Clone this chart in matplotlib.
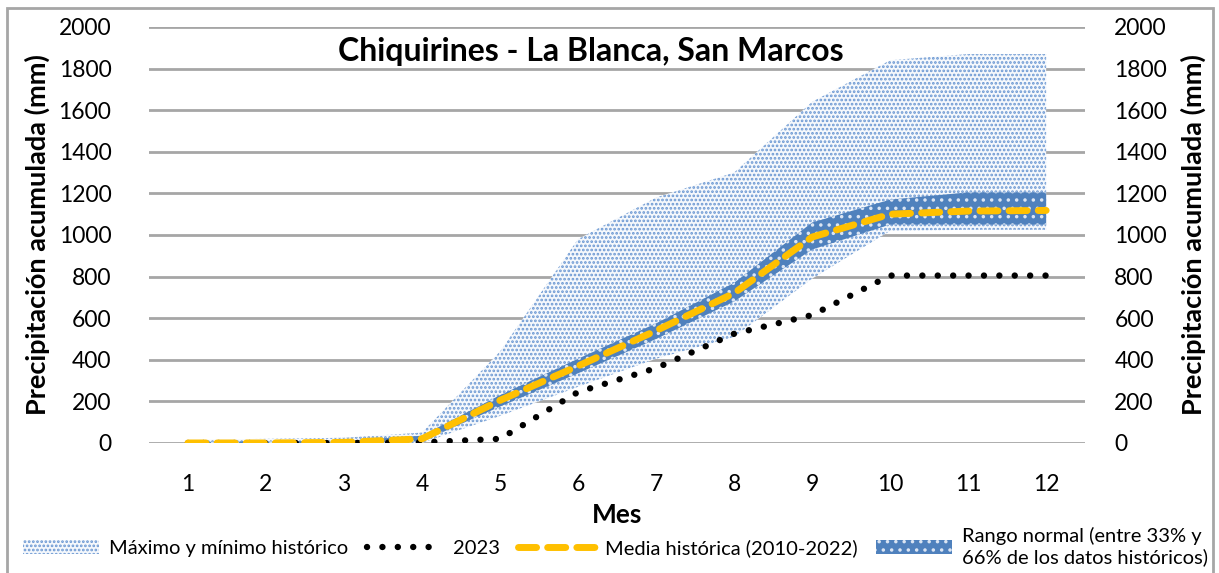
# -*- coding: utf-8 -*-
import numpy as np
import matplotlib.pyplot as plt
from matplotlib.patches import Patch, Rectangle
from matplotlib.lines import Line2D

plt.rcParams["font.family"] = ["Lato", "DejaVu Sans"]
plt.rcParams["hatch.linewidth"] = 1.3

meses = [1, 2, 3, 4, 5, 6, 7, 8, 9, 10, 11, 12]

maximo = [15, 20, 25, 50, 440, 980, 1180, 1300, 1640, 1840, 1870, 1870]
minimo = [0, 0, 0, 0, 130, 270, 405, 510, 790, 1020, 1025, 1025]
p33 = [0, 0, 0, 8, 175, 335, 500, 680, 930, 1050, 1050, 1050]
p66 = [5, 8, 10, 35, 230, 405, 575, 770, 1060, 1170, 1205, 1205]
media = [0, 0, 3, 20, 205, 370, 540, 720, 990, 1100, 1115, 1118]
anio_2023 = [0, 0, 0, 3, 20, 245, 360, 525, 615, 805, 805, 805]

yticks = [0, 200, 400, 600, 800, 1000, 1200, 1400, 1600, 1800, 2000]

azul = "#4f81bd"
azul_claro = "#6a97d2"
amarillo = "#ffc000"

fig = plt.figure(figsize=(12.19, 5.73), dpi=100)
ax = fig.add_axes([0.1222, 0.2269, 0.768, 0.726])

# rango maximo / minimo historico (puntos claros)
ax.fill_between(meses, minimo, maximo, facecolor="#f5f8fc", edgecolor=azul_claro,
                hatch="....", linewidth=0, zorder=2)
# rango normal 33%-66%
ax.fill_between(meses, p33, p66, facecolor=azul, edgecolor="#dbe5f3",
                hatch="..", linewidth=0, zorder=3)

ax.plot(meses, media, color=amarillo, linewidth=5, dashes=(2.6, 1.6),
        dash_capstyle="round", zorder=5)
ax.plot(meses, anio_2023, color="black", linewidth=4.6, dashes=(0.01, 2.4),
        dash_capstyle="round", zorder=4)

ax.set_xlim(0.5, 12.5)
ax.set_ylim(0, 2000)
ax.set_xticks(meses)
ax.set_yticks(yticks)
ax.grid(axis="y", color="#a6a6a6", linewidth=2, zorder=0)
ax.set_axisbelow(True)
for s in ax.spines.values():
    s.set_visible(False)
ax.tick_params(length=0, labelsize=16.5)
ax.tick_params(axis="y", pad=27)
ax.tick_params(axis="x", pad=22)

ax.set_xlabel("Mes", fontsize=19, fontweight="bold", labelpad=6)
ax.set_ylabel("Precipitación acumulada (mm)", fontsize=19.5, fontweight="bold",
              labelpad=6)

ax2 = ax.twinx()
ax2.set_ylim(0, 2000)
ax2.set_yticks(yticks)
for s in ax2.spines.values():
    s.set_visible(False)
ax2.tick_params(length=0, labelsize=16.5, pad=21)
ax2.set_ylabel("Precipitación acumulada (mm)", fontsize=19.5, fontweight="bold",
               rotation=90, labelpad=10)

ax.text(0.472, 0.94, "Chiquirines - La Blanca, San Marcos", transform=ax.transAxes,
        ha="center", va="center", fontsize=23, fontweight="bold", zorder=6)

handles = [
    Patch(facecolor="#f5f8fc", edgecolor=azul_claro, hatch="....", linewidth=0),
    Line2D([], [], color="black", linewidth=4.6, dashes=(0.01, 2.4),
           dash_capstyle="round"),
    Line2D([], [], color=amarillo, linewidth=5, dashes=(2.6, 1.6),
           dash_capstyle="round"),
    Patch(facecolor=azul, edgecolor="#dbe5f3", hatch="..", linewidth=0),
]
labels = ["Máximo y mínimo histórico", "2023", "Media histórica (2010-2022)",
          "Rango normal (entre 33% y\n66% de los datos históricos)"]
fig.legend(handles, labels, loc="lower center", bbox_to_anchor=(0.505, -0.02),
           ncol=4, frameon=False, fontsize=14.5, handlelength=3.8,
           columnspacing=0.9, handletextpad=0.5, labelspacing=0.2)

fig.patches.append(Rectangle((7 / 1219, -0.01), 1206 / 1219, 1 - 8 / 573 + 0.01,
                             transform=fig.transFigure, fill=False,
                             edgecolor="#a6a6a6", linewidth=2))

fig.savefig("out.png", dpi=100)
